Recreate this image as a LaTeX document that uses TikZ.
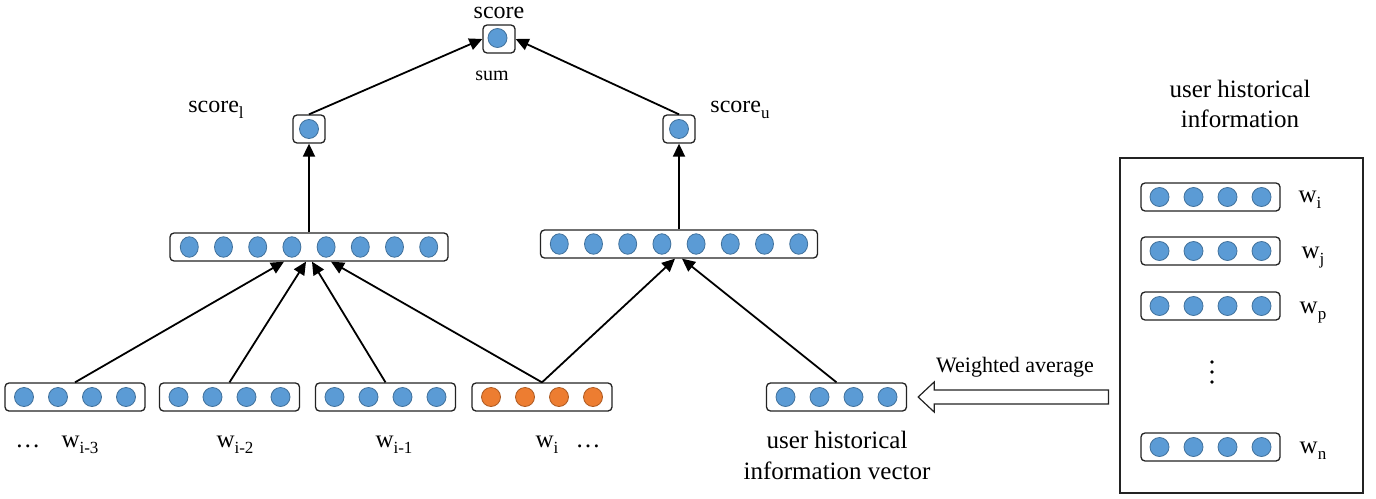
\documentclass[tikz,border=0pt]{standalone}
\usepackage{fontspec}
\setmainfont{Liberation Serif}
\usetikzlibrary{arrows.meta,calc,shapes.geometric}

\definecolor{cblue}{RGB}{91,155,213}
\definecolor{cblueedge}{RGB}{65,113,156}
\definecolor{corange}{RGB}{237,125,49}
\definecolor{corangeedge}{RGB}{174,90,33}
\definecolor{boxline}{RGB}{35,35,35}

% a rounded box holding a row of units: name, x, y, width, unit offsets, unit style
\newcommand\unitrow[6]{%
  \node[vbox, minimum width=#4pt] (#1) at (#2,#3) {};
  \foreach \dx [count=\k] in {#5} \node[#6] (#1-\k) at ($(#1)+(\dx,0)$) {};
}
% lowered index in the style of the figure
\newcommand\idx[1]{\raisebox{-6.5pt}{\fontsize{17}{20}\selectfont #1}}

\begin{document}
\begin{tikzpicture}[x=1pt,y=-1pt,
  vbox/.style={draw=boxline, line width=1.3pt, rounded corners=4pt,
    minimum height=28pt, inner sep=0pt, fill=white},
  sbox/.style={vbox, minimum width=32pt},
  unit/.style={circle, draw=cblueedge, fill=cblue, line width=0.8pt,
    minimum size=19pt, inner sep=0pt},
  ounit/.style={unit, draw=corangeedge, fill=corange},
  munit/.style={ellipse, draw=cblueedge, fill=cblue, line width=0.8pt,
    minimum width=18pt, minimum height=20.5pt, inner sep=0pt},
  link/.style={line width=1.8pt, -{Triangle[length=13pt,width=12pt]}},
  lbl/.style={font=\fontsize{25}{30}\selectfont, inner sep=0pt},
  smalllbl/.style={font=\fontsize{20}{24}\selectfont, inner sep=0pt},
  hollow/.style={draw=boxline, line width=1.2pt, fill=white, line join=miter},
]
\useasboundingbox (0,0) rectangle (1376,498);

% input word vectors and the user vector
\unitrow{b1}{75}{397}{140}{-51,-17,17,51}{unit}
\unitrow{b2}{229.5}{397}{140}{-51,-17,17,51}{unit}
\unitrow{b3}{385.5}{397}{140}{-51,-17,17,51}{unit}
\unitrow{b4}{542}{397}{140}{-51,-17,17,51}{ounit}
\unitrow{uvec}{836.5}{397}{140}{-51,-17,17,51}{unit}

% hidden layers
\unitrow{ml}{309}{247}{278}{-119.7,-85.5,-51.3,-17.1,17.1,51.3,85.5,119.7}{munit}
\unitrow{mr}{679}{244}{277}{-119.7,-85.5,-51.3,-17.1,17.1,51.3,85.5,119.7}{munit}

% score units
\node[sbox] (sl) at (309,129) {};
\node[unit] (sl-1) at (sl) {};
\node[sbox] (su) at (679,129) {};
\node[unit] (su-1) at (su) {};
\node[sbox] (sc) at (499,39) {};
\node[unit] (sc-1) at ($(sc)+(-1.5,-1)$) {};

% user history panel
\node[draw=boxline, line width=1.2pt, minimum width=243pt, minimum height=335pt,
  inner sep=0pt] (panel) at (1241.5,325.5) {};
\unitrow{h1}{1210.5}{197}{139}{-51,-17,17,51}{unit}
\unitrow{h2}{1210.5}{251}{139}{-51,-17,17,51}{unit}
\unitrow{h3}{1210.5}{306}{139}{-51,-17,17,51}{unit}
\unitrow{h4}{1210.5}{447}{139}{-51,-17,17,51}{unit}
\foreach \yy in {362,372,382} \fill (1212,\yy) circle (1.9pt);

% labels
\node[lbl, anchor=base, font=\fontsize{24}{28}\selectfont] (tscore) at (499,18) {score};
\node[smalllbl, anchor=base] (tsum) at (492,80) {sum};
\node[lbl, anchor=base, font=\fontsize{24}{28}\selectfont] (tsl) at (216,112) {score\idx{l}};
\node[lbl, anchor=base, font=\fontsize{24}{28}\selectfont] (tsu) at (740,112) {score\idx{u}};

\node[lbl, anchor=base] (dl) at (28,447) {\ldots};
\node[lbl, anchor=base] (w1) at (80,447) {w\idx{i-3}};
\node[lbl, anchor=base] (w2) at (235,447) {w\idx{i-2}};
\node[lbl, anchor=base] (w3) at (394,447) {w\idx{i-1}};
\node[lbl, anchor=base] (w4) at (547,447) {w\idx{i}};
\node[lbl, anchor=base] (dr) at (588,447) {\ldots};
\node[lbl, anchor=base, align=center] (tuvec) at (837,479)
  {user historical\\[1pt]information vector};

\node[lbl, anchor=base, align=center] (tpanel) at (1240,127)
  {user historical\\information};
\node[lbl, anchor=base] (lh1) at (1310,202) {w\idx{i}};
\node[lbl, anchor=base] (lh2) at (1313,258) {w\idx{j}};
\node[lbl, anchor=base] (lh3) at (1313,313) {w\idx{p}};
\node[lbl, anchor=base] (lh4) at (1313,453) {w\idx{n}};

\node[anchor=base, inner sep=0pt, font=\fontsize{22}{26}\selectfont] (twavg) at (1015,372) {Weighted average};

% hollow arrow from the panel to the user vector
\coordinate (hatip) at ($(uvec.east)+(11,0)$);
\coordinate (hatail) at ($(panel.west |- uvec.east)+(-11,0)$);
\draw[hollow] (hatip) -- ($(hatip)+(16,-15)$) -- ($(hatip)+(16,-7)$)
  -- ($(hatail)+(0,-7)$) -- ($(hatail)+(0,7)$) -- ($(hatip)+(16,7)$)
  -- ($(hatip)+(16,15)$) -- cycle;

% connections
\draw[link] (b1.north) -- ([xshift=-25pt]ml.south);
\draw[link] (b2.north) -- ([xshift=-3pt]ml.south);
\draw[link] (b3.north) -- ([xshift=3pt]ml.south);
\draw[link] (b4.north) -- ([xshift=22pt]ml.south);
\draw[link] (b4.north) -- ([xshift=-4pt]mr.south);
\draw[link] (uvec.north) -- ([xshift=3pt]mr.south);
\draw[link] (ml.north) -- (sl.south);
\draw[link] (mr.north) -- (su.south);
\draw[link] (sl.north) -- (sc.west);
\draw[link] (su.north) -- (sc.east);
\end{tikzpicture}
\end{document}
